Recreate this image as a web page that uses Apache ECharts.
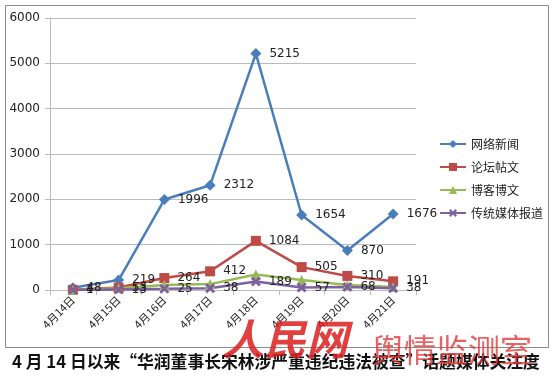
<!DOCTYPE html>
<html><head><meta charset="utf-8">
<script src="https://cdn.jsdelivr.net/npm/echarts@6/dist/echarts.min.js"></script>
<style>html,body{margin:0;padding:0;background:#fff}#c{width:555px;height:378px}</style>
</head><body><div id="c"></div>
<script>
const categories = ['4月14日','4月15日','4月16日','4月17日','4月18日','4月19日','4月20日','4月21日'];
const newsValues = [48, 219, 1996, 2312, 5215, 1654, 870, 1676];
const forumValues = [4, 53, 264, 412, 1084, 505, 310, 191];
const blogValues = [1, 40, 110, 130, 340, 220, 110, 66];
const mediaValues = [1, 13, 25, 38, 189, 57, 68, 38];
const yTicks = [0, 1000, 2000, 3000, 4000, 5000, 6000];
const seriesNames = ['网络新闻','论坛帖文','博客博文','传统媒体报道'];

const chart = echarts.init(document.getElementById('c'));
const font = "'Noto Sans CJK SC', 'DejaVu Sans', sans-serif";
const xShape = 'path://M0,2L2,0L5,3L8,0L10,2L7,5L10,8L8,10L5,7L2,10L0,8L3,5Z';
function mk(name, data, color, symbol, size, showLabel) {
  return {
    name, type: 'line', data, symbol, symbolSize: size,
    lineStyle: { color, width: 2.5 },
    itemStyle: { color },
    label: { show: showLabel, position: 'right', distance: 8, color: '#222', fontSize: 12, fontFamily: 'DejaVu Sans' },
    z: 3
  };
}
chart.setOption({
  animation: false,
  backgroundColor: '#fff',
  grid: { left: 50, right: 139, top: 18, bottom: 88 },
  legend: {
    orient: 'vertical', left: 434, top: 133, itemGap: 11,
    itemWidth: 26, itemHeight: 10,
    textStyle: { fontSize: 12, color: '#222', fontFamily: font },
    data: seriesNames
  },
  xAxis: {
    type: 'category', data: categories, boundaryGap: true,
    axisLine: { lineStyle: { color: '#bbb' } },
    axisTick: { show: true, lineStyle: { color: '#bbb' } },
    axisLabel: { rotate: 45, fontSize: 11, color: '#222', fontFamily: font, margin: 8 }
  },
  yAxis: {
    type: 'value', min: yTicks[0], max: yTicks[yTicks.length-1], interval: 1000,
    axisLine: { show: true, lineStyle: { color: '#bbb' } },
    axisTick: { show: true, lineStyle: { color: '#bbb' }, length: 5 },
    splitLine: { lineStyle: { color: '#bbb' } },
    axisLabel: { fontSize: 12, color: '#222', fontFamily: 'DejaVu Sans', margin: 10, formatter: v => String(v) }
  },
  series: [
    mk(seriesNames[0], newsValues, '#4a7ebb', 'diamond', 11, true),
    mk(seriesNames[1], forumValues, '#be4b48', 'rect', 10, true),
    mk(seriesNames[2], blogValues, '#98b954', 'triangle', 10, false),
    mk(seriesNames[3], mediaValues, '#7d60a0', xShape, 10, true)
  ],
  graphic: [
    { type: 'rect', shape: { x: 5.5, y: 5.5, width: 543, height: 342 }, style: { fill: 'none', stroke: '#8a8a8a', lineWidth: 1 }, silent: true, z: -1 },
    { type: 'text', left: 222, top: 318, style: { text: '人民网', fill: 'rgba(220,30,30,0.85)', font: "italic bold 42px 'Noto Sans CJK SC'" }, z: 10 },
    { type: 'text', left: 372, top: 334, style: { text: '舆情监测室', fill: 'rgba(225,60,60,0.8)', font: "32px 'Noto Sans CJK SC'" }, z: 10 },
    { type: 'text', left: 12, top: 353, style: { text: '4 月 14 日以来“华润董事长宋林涉严重违纪违法被查”话题媒体关注度', fill: '#111', font: "bold 16.8px 'Noto Sans CJK SC'" }, z: 9 }
  ]
});
</script></body></html>
